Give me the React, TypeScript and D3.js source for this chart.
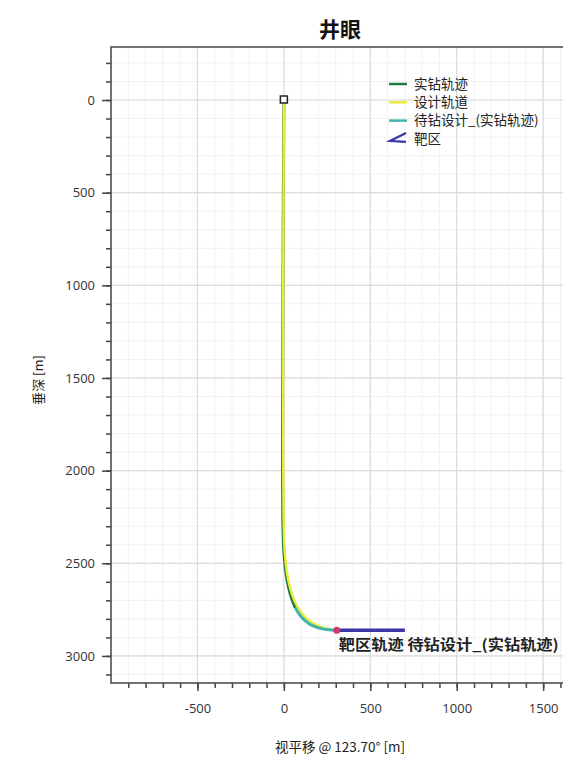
import React, { useEffect, useRef } from 'react';
import * as d3 from 'd3';

// design trajectory (设计轨道): [horizontal offset m, vertical depth m]
const designOffset = [0, -2, -4, -5, -4, -2, 2, 8, 18, 32, 50, 75, 105, 145, 190, 240, 280, 306];
const designDepth = [0, 500, 1000, 1500, 2000, 2250, 2400, 2480, 2560, 2620, 2680, 2730, 2775, 2810, 2835, 2852, 2859, 2861];

// actual drilled (实钻轨迹)
const actualOffset = [0, -3, -5, -7, -8, -7, -3, 3, 12, 26, 44, 66];
const actualDepth = [0, 500, 1000, 1500, 2000, 2250, 2400, 2480, 2560, 2630, 2690, 2740];

// planned remainder (待钻设计_(实钻轨迹))
const planOffset = [66, 95, 130, 170, 215, 260, 306];
const planDepth = [2740, 2782, 2815, 2838, 2852, 2859, 2861];

// target zone (靶区)
const targetOffset = [306, 700];
const targetDepth = [2861, 2861];

const xTicks = [-500, 0, 500, 1000, 1500];
const yTicks = [0, 500, 1000, 1500, 2000, 2500, 3000];

const legendItems = ['实钻轨迹', '设计轨道', '待钻设计_(实钻轨迹)', '靶区'];
const legendColors = ['#1d7a45', '#e8ec3a', '#3fb3ae', '#3a36a8'];

const App = () => {
  const svgRef = useRef<SVGSVGElement>(null);

  useEffect(() => {
    const width = 563;
    const height = 759;
    const plot = { left: 111, right: 576, top: 47, bottom: 683 };
    const numFont = '"Open Sans", "Noto Sans", sans-serif';

    const svg = d3.select(svgRef.current)
      .attr('width', width)
      .attr('height', height)
      .style('font-family', '"Noto Sans CJK SC", "Noto Sans", sans-serif');
    svg.selectAll('*').remove();

    const x = d3.scaleLinear().domain([-1000, 1690]).range([plot.left, plot.right]);
    const y = d3.scaleLinear().domain([-286, 3146]).range([plot.top, plot.bottom]);

    svg.append('rect').attr('width', width).attr('height', height).attr('fill', '#fff');

    const g = svg.append('g');

    // minor grid
    const xMinor = d3.range(-1000, 1700, 100);
    const yMinor = d3.range(-200, 3200, 100);
    g.append('g').selectAll('line').data(xMinor).join('line')
      .attr('x1', d => x(d)).attr('x2', d => x(d))
      .attr('y1', plot.top).attr('y2', plot.bottom)
      .attr('stroke', '#f1f1f1').attr('stroke-width', 1);
    g.append('g').selectAll('line').data(yMinor).join('line')
      .attr('y1', d => y(d)).attr('y2', d => y(d))
      .attr('x1', plot.left).attr('x2', plot.right)
      .attr('stroke', '#f1f1f1').attr('stroke-width', 1);

    // major grid
    g.append('g').selectAll('line').data(xTicks).join('line')
      .attr('x1', d => x(d)).attr('x2', d => x(d))
      .attr('y1', plot.top).attr('y2', plot.bottom)
      .attr('stroke', '#dcdcdc').attr('stroke-width', 1.2);
    g.append('g').selectAll('line').data(yTicks).join('line')
      .attr('y1', d => y(d)).attr('y2', d => y(d))
      .attr('x1', plot.left).attr('x2', plot.right)
      .attr('stroke', '#dcdcdc').attr('stroke-width', 1.2);

    // frame
    svg.append('rect')
      .attr('x', plot.left).attr('y', plot.top)
      .attr('width', plot.right - plot.left).attr('height', plot.bottom - plot.top)
      .attr('fill', 'none').attr('stroke', '#444').attr('stroke-width', 1.5);

    // axes
    const xAxis = svg.append('g').attr('transform', `translate(0,${plot.bottom})`);
    xAxis.call(d3.axisBottom(x).tickValues(xMinor.filter(d => d > -1000)).tickSize(5).tickFormat(() => ''))
      .call(a => a.select('.domain').remove());
    xAxis.append('g').call(d3.axisBottom(x).tickValues(xTicks).tickSize(8).tickPadding(13).tickFormat(d => String(d)))
      .call(a => a.select('.domain').remove());
    xAxis.selectAll('line').attr('stroke', '#444').attr('stroke-width', 1.5);
    xAxis.selectAll('text').attr('fill', '#333').style('font-size', '13px').style('font-family', numFont);

    const yAxis = svg.append('g').attr('transform', `translate(${plot.left},0)`);
    yAxis.call(d3.axisLeft(y).tickValues(yMinor).tickSize(5).tickFormat(() => ''))
      .call(a => a.select('.domain').remove());
    yAxis.append('g').call(d3.axisLeft(y).tickValues(yTicks).tickSize(9).tickPadding(7).tickFormat(d => String(d)))
      .call(a => a.select('.domain').remove());
    yAxis.selectAll('line').attr('stroke', '#444').attr('stroke-width', 1.5);
    yAxis.selectAll('text').attr('fill', '#333').style('font-size', '13px').style('font-family', numFont);

    // trajectories
    const line = d3.line<[number, number]>()
      .x(d => x(d[0])).y(d => y(d[1]))
      .curve(d3.curveMonotoneY);
    const lineB = d3.line<[number, number]>()
      .x(d => x(d[0])).y(d => y(d[1]))
      .curve(d3.curveBasis);

    const actual = d3.zip(actualOffset, actualDepth) as [number, number][];
    const design = d3.zip(designOffset, designDepth) as [number, number][];
    const plan = d3.zip(planOffset, planDepth) as [number, number][];
    const target = d3.zip(targetOffset, targetDepth) as [number, number][];

    svg.append('path').datum(actual).attr('d', lineB)
      .attr('fill', 'none').attr('stroke', legendColors[0]).attr('stroke-width', 3);
    svg.append('path').datum(design).attr('d', lineB)
      .attr('fill', 'none').attr('stroke', legendColors[1]).attr('stroke-width', 2.5);
    svg.append('path').datum(plan).attr('d', line)
      .attr('fill', 'none').attr('stroke', legendColors[2]).attr('stroke-width', 3);
    svg.append('path').datum(target).attr('d', d3.line<[number, number]>().x(d => x(d[0])).y(d => y(d[1])))
      .attr('fill', 'none').attr('stroke', legendColors[3]).attr('stroke-width', 3.5);

    // target entry point
    svg.append('circle')
      .attr('cx', x(targetOffset[0])).attr('cy', y(targetDepth[0])).attr('r', 3.5)
      .attr('fill', '#d2386a');

    // wellhead marker
    svg.append('rect')
      .attr('x', x(0) - 3.5).attr('y', y(0) - 4).attr('width', 7).attr('height', 7)
      .attr('fill', '#fff').attr('stroke', '#222').attr('stroke-width', 1.5);

    // point labels (overlapping, as in the original)
    svg.append('text')
      .attr('x', x(targetOffset[0]) + 2).attr('y', y(targetDepth[0]) + 20)
      .attr('fill', '#222').style('font-size', '14.5px').style('font-weight', 'bold')
      .attr('textLength', 220).attr('lengthAdjust', 'spacingAndGlyphs')
      .text('靶区轨迹 待钻设计_(实钻轨迹)');

    // legend
    const lg = svg.append('g').attr('transform', 'translate(389,84)');
    legendItems.forEach((name, i) => {
      const row = lg.append('g').attr('transform', `translate(0,${i * 18.3})`);
      if (i < 3) {
        row.append('line').attr('x1', 0).attr('x2', 18).attr('y1', 0).attr('y2', 0)
          .attr('stroke', legendColors[i]).attr('stroke-width', 2.5);
      } else {
        row.append('path').attr('d', 'M17,-6 L1,2 L17,3')
          .attr('fill', 'none').attr('stroke', legendColors[i]).attr('stroke-width', 2.2);
      }
      row.append('text').attr('x', 25).attr('y', 0).attr('dy', '0.35em')
        .attr('fill', '#222').style('font-size', '13.5px')
        .text(name);
    });

    // title
    svg.append('text')
      .attr('x', 340).attr('y', 37).attr('text-anchor', 'middle')
      .style('font-size', '21px').style('font-weight', 'bold').attr('fill', '#111')
      .text('井眼');

    // axis titles
    svg.append('text')
      .attr('x', 340).attr('y', 752).attr('text-anchor', 'middle')
      .style('font-size', '13.5px').attr('fill', '#222')
      .text('视平移 @ 123.70° [m]');

    svg.append('text')
      .attr('transform', 'translate(43,380) rotate(-90)')
      .attr('text-anchor', 'middle')
      .style('font-size', '13px').attr('fill', '#222')
      .text('垂深 [m]');
  }, []);

  return <svg ref={svgRef} style={{ position: 'absolute', left: 0, top: 0 }}></svg>;
};

export default App;
